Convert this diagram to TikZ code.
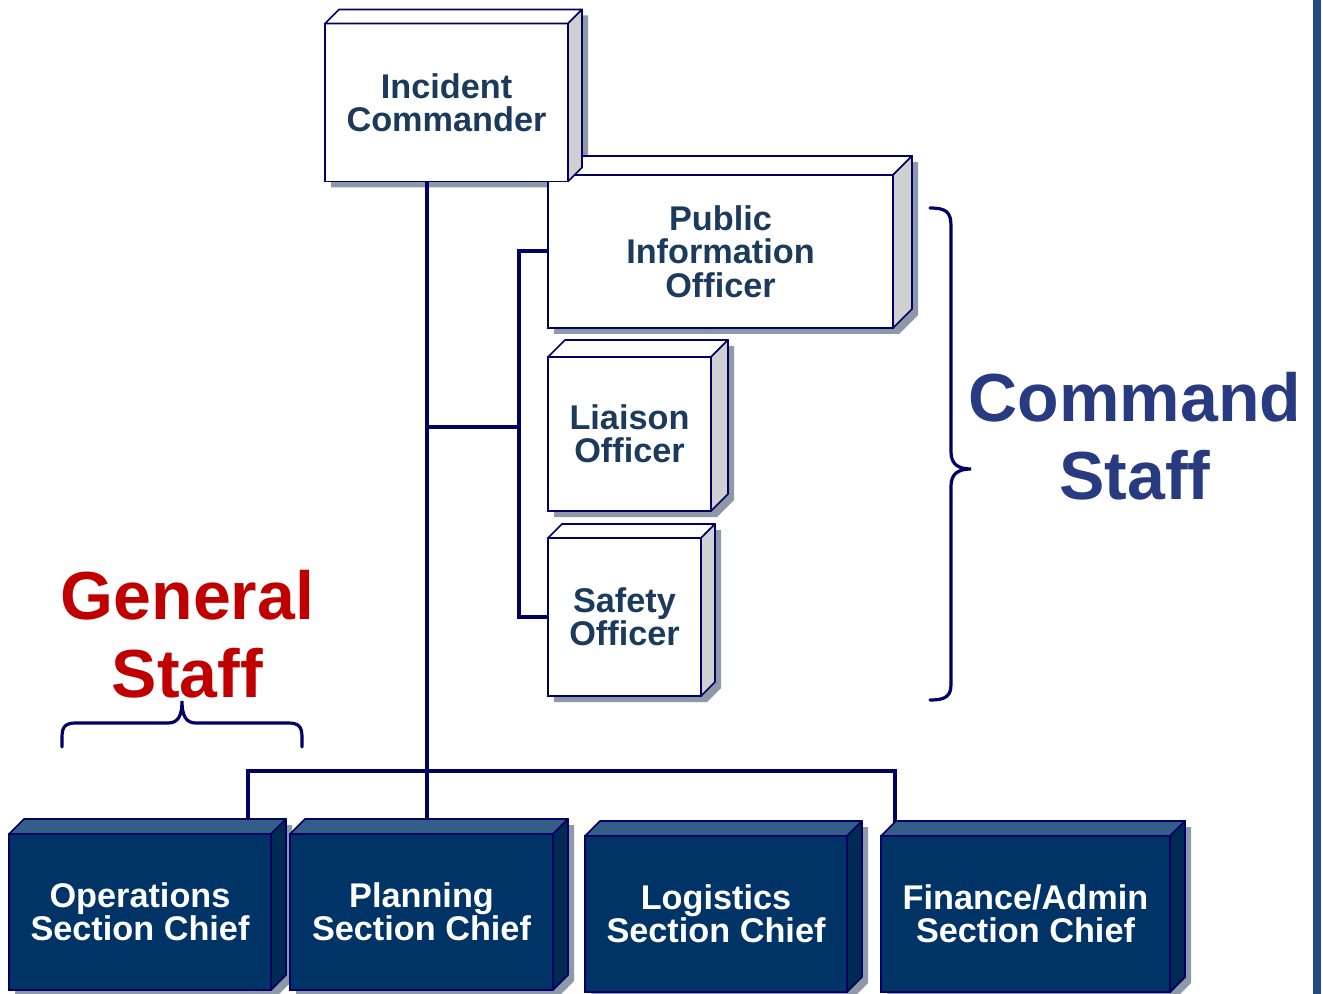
\documentclass[tikz,border=0pt]{standalone}
\usepackage{fontspec}
\setmainfont{Liberation Sans}
\definecolor{linenavy}{HTML}{000066}
\definecolor{boxtext}{HTML}{1B3A5C}
\definecolor{boxside}{HTML}{D0D0D0}
\definecolor{shadowgray}{HTML}{8D99A6}
\definecolor{navyfront}{HTML}{003366}
\definecolor{navytop}{HTML}{335E88}
\definecolor{navyside}{HTML}{002A52}
\definecolor{titleblue}{HTML}{283A80}
\definecolor{titlered}{HTML}{C00000}
\definecolor{barblue}{HTML}{1F4B80}
\newcommand{\px}{0.75pt}
\pgfdeclarelayer{background}
\pgfdeclarelayer{links}
\pgfsetlayers{background,links,main}
% top face, side face and shadow of a box node: node, depth, top colour, side colour
\newcommand{\extrude}[4]{%
    \begin{pgfonlayer}{background}
        \fill[shadowgray] ([shift={(6,6)}]#1.south west) -- ([shift={(6,6)}]#1.south east)
            -- ([shift={(#2+6,6-#2)}]#1.south east) -- ([shift={(#2+6,6-#2)}]#1.north east)
            -- ([shift={(#2+6,6-#2)}]#1.north west) -- ([shift={(6,6)}]#1.north west) -- cycle;
    \end{pgfonlayer}
    \draw[boxline, fill=#3, line join=round] (#1.north west) -- ([shift={(#2,-#2)}]#1.north west)
        -- ([shift={(#2,-#2)}]#1.north east) -- (#1.north east) -- cycle;
    \draw[boxline, fill=#4, line join=round] (#1.north east) -- ([shift={(#2,-#2)}]#1.north east)
        -- ([shift={(#2,-#2)}]#1.south east) -- (#1.south east) -- cycle;
}

\begin{document}
\begin{tikzpicture}[x=\px, y=-\px,
    boxline/.style={draw=linenavy, line width=1.3pt},
    wbox/.style={boxline, rectangle, fill=white, inner sep=0pt, outer sep=0pt, align=center,
        text=boxtext, font=\bfseries\fontsize{25.7}{25}\selectfont},
    nbox/.style={wbox, fill=navyfront, text=white},
    link/.style={draw=linenavy, line width=3pt},
    bracket/.style={draw=linenavy, line width=2.4pt, line cap=round},
    title/.style={align=center, font=\bfseries\fontsize{51}{58.5}\selectfont}]
    \useasboundingbox (0,0) rectangle (1323,994);

    % Command staff
    \node[wbox, minimum width=345*\px, minimum height=153*\px] (pio) at (720.5,251.5) {Public\\Information\\Officer};
    \extrude{pio}{19}{white}{boxside}
    \node[wbox, minimum width=243*\px, minimum height=158*\px] (ic) at (446.5,102.5) {Incident\\Commander};
    \extrude{ic}{14}{white}{boxside}
    \node[wbox, minimum width=163*\px, minimum height=154*\px] (lo) at (629.5,434) {Liaison\\Officer};
    \extrude{lo}{17}{white}{boxside}
    \node[wbox, minimum width=153*\px, minimum height=158*\px] (so) at (624.5,617) {Safety\\Officer};
    \extrude{so}{14}{white}{boxside}

    % General staff
    \node[nbox, minimum width=262*\px, minimum height=156*\px] (ops) at (140,912) {Operations\\Section Chief};
    \extrude{ops}{15}{navytop}{navyside}
    \node[nbox, minimum width=263*\px, minimum height=156*\px] (pla) at (421.5,912) {Planning\\Section Chief};
    \extrude{pla}{15}{navytop}{navyside}
    \node[nbox, minimum width=262*\px, minimum height=156*\px] (log) at (716,914) {Logistics\\Section Chief};
    \extrude{log}{15}{navytop}{navyside}
    \node[nbox, minimum width=289*\px, minimum height=156*\px] (fin) at (1025.5,914) {Finance/Admin\\Section Chief};
    \extrude{fin}{15}{navytop}{navyside}

    % connectors
    \coordinate (hub) at (427,427);
    \coordinate (rail) at (519,427);
    \coordinate (bus) at (427,771);
    \begin{pgfonlayer}{links}
        \draw[link] (ic.south -| hub) -- (bus);
        \draw[link] (hub) -- (rail);
        \draw[link] (pio.west) -| (rail) |- (so.west);
        \draw[link] (bus) -- (bus |- pla.north);
        \draw[link] (ops.north -| 248,0) |- (bus) -| (fin.north -| 895,0);
        \draw[link] (log.north -| 720,0) -- (log.north -| 720,771);
    \end{pgfonlayer}

    % braces and labels
    \draw[bracket] (930,208) .. controls (946,208) and (951,212) .. (951,226) -- (951,452)
        .. controls (951,464) and (958,469) .. (971,469) .. controls (958,469) and (951,474) .. (951,486)
        -- (951,684) .. controls (951,696) and (946,700) .. (930,700);
    \draw[bracket] (62,747) -- (62,737) .. controls (62,726) and (66,723) .. (76,723) -- (168,723)
        .. controls (178,723) and (182,716) .. (182,701) .. controls (182,716) and (186,723) .. (196,723)
        -- (288,723) .. controls (298,723) and (302,726) .. (302,737) -- (302,747);
    \node[title, text=titleblue] (cmdstaff) at (1135,436) {Command\\Staff};
    \node[title, text=titlered] (genstaff) at (187.5,634) {General\\Staff};

    \fill[barblue] (1313,0) rectangle (1321,994);
\end{tikzpicture}
\end{document}
